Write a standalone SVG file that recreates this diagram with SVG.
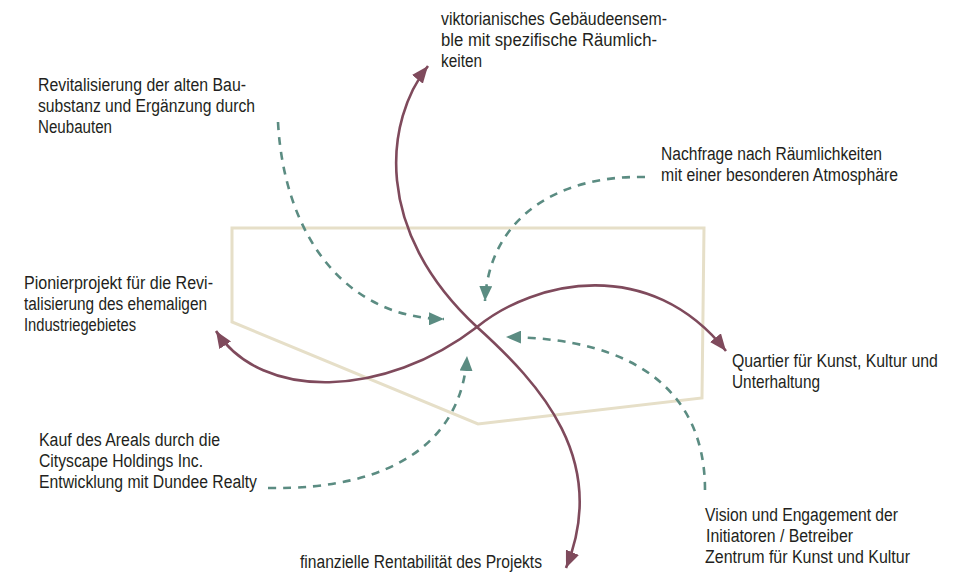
<svg xmlns="http://www.w3.org/2000/svg" width="960" height="574" viewBox="0 0 960 574">
  <style>
    .lbl { font-family: "Liberation Sans", Arial, sans-serif; font-size: 18px; fill: #231f20; }
    .frame { fill: none; stroke: #e6dfc8; stroke-width: 3; }
    .flow { fill: none; stroke: #7f4a5c; stroke-width: 2.6; }
    .cause { fill: none; stroke: #5b8c82; stroke-width: 2.6; stroke-dasharray: 8 7; }
  </style>
  <defs>
    <marker id="head-flow" markerUnits="userSpaceOnUse" markerWidth="17" markerHeight="14" refX="17" refY="7" orient="auto-start-reverse">
      <path d="M0,0 L17,7 L0,14 z" fill="#7f4a5c"/>
    </marker>
    <marker id="head-cause" markerUnits="userSpaceOnUse" markerWidth="15" markerHeight="13" refX="15" refY="6.5" orient="auto">
      <path d="M0,0 L15,6.5 L0,13 z" fill="#5b8c82"/>
    </marker>
  </defs>

  <rect width="960" height="574" fill="#ffffff"/>

  <!-- site outline -->
  <g id="site">
    <polygon class="frame" points="232,228 704,228 702,398 478,424 232,322"/>
  </g>

  <g id="connectors">
    <!-- solid double-headed flows -->
    <path class="flow" marker-start="url(#head-flow)" marker-end="url(#head-flow)"
          d="M428,66 C385,120 372,230 477,327 C540,384 610,460 566,568"/>
    <path class="flow" marker-start="url(#head-flow)" marker-end="url(#head-flow)"
          d="M216,331 C262,402 385,398 477,327 C535,280 650,255 726,351"/>
    <!-- dashed influences -->
    <path class="cause" marker-end="url(#head-cause)" d="M278,122 C284,235 345,318 444,319"/>
    <path class="cause" marker-end="url(#head-cause)" d="M645,177 C555,175 489,220 485,301"/>
    <path class="cause" marker-end="url(#head-cause)" d="M705,490 C705,395 640,338 506,337"/>
    <path class="cause" marker-end="url(#head-cause)" d="M268,488 C395,490 462,440 467,356"/>
  </g>

  <g id="n-gebaeude">
    <text class="lbl" x="441" y="25" textLength="226" lengthAdjust="spacingAndGlyphs">viktorianisches Gebäudeensem-</text>
    <text class="lbl" x="441" y="46" textLength="216" lengthAdjust="spacingAndGlyphs">ble mit spezifische Räumlich-</text>
    <text class="lbl" x="441" y="67" textLength="41" lengthAdjust="spacingAndGlyphs">keiten</text>
  </g>
  <g id="n-revitalisierung">
    <text class="lbl" x="38" y="91" textLength="208" lengthAdjust="spacingAndGlyphs">Revitalisierung der alten Bau-</text>
    <text class="lbl" x="38" y="112" textLength="217" lengthAdjust="spacingAndGlyphs">substanz und Ergänzung durch</text>
    <text class="lbl" x="38" y="133" textLength="74" lengthAdjust="spacingAndGlyphs">Neubauten</text>
  </g>
  <g id="n-nachfrage">
    <text class="lbl" x="661" y="160" textLength="221" lengthAdjust="spacingAndGlyphs">Nachfrage nach Räumlichkeiten</text>
    <text class="lbl" x="661" y="181" textLength="237" lengthAdjust="spacingAndGlyphs">mit einer besonderen Atmosphäre</text>
  </g>
  <g id="n-pionierprojekt">
    <text class="lbl" x="24" y="289" textLength="189" lengthAdjust="spacingAndGlyphs">Pionierprojekt für die Revi-</text>
    <text class="lbl" x="24" y="310" textLength="183" lengthAdjust="spacingAndGlyphs">talisierung des ehemaligen</text>
    <text class="lbl" x="24" y="331" textLength="112" lengthAdjust="spacingAndGlyphs">Industriegebietes</text>
  </g>
  <!-- condensed by a horizontal scale so the long line stays inside the canvas -->
  <g id="n-quartier" transform="translate(732 0) scale(0.88 1)">
    <text class="lbl" x="0" y="367">Quartier für Kunst, Kultur und</text>
    <text class="lbl" x="0" y="388" textLength="100" lengthAdjust="spacingAndGlyphs">Unterhaltung</text>
  </g>
  <g id="n-kauf">
    <text class="lbl" x="39" y="446" textLength="181" lengthAdjust="spacingAndGlyphs">Kauf des Areals durch die</text>
    <text class="lbl" x="39" y="467" textLength="164" lengthAdjust="spacingAndGlyphs">Cityscape Holdings Inc.</text>
    <text class="lbl" x="39" y="488" textLength="218" lengthAdjust="spacingAndGlyphs">Entwicklung mit Dundee Realty</text>
  </g>
  <g id="n-vision">
    <text class="lbl" x="705" y="521" textLength="193" lengthAdjust="spacingAndGlyphs">Vision und Engagement der</text>
    <text class="lbl" x="706" y="542" textLength="147" lengthAdjust="spacingAndGlyphs">Initiatoren / Betreiber</text>
    <text class="lbl" x="705" y="563" textLength="205" lengthAdjust="spacingAndGlyphs">Zentrum für Kunst und Kultur</text>
  </g>
  <g id="n-rentabilitaet">
    <text class="lbl" x="300" y="568" textLength="242" lengthAdjust="spacingAndGlyphs">finanzielle Rentabilität des Projekts</text>
  </g>
</svg>
